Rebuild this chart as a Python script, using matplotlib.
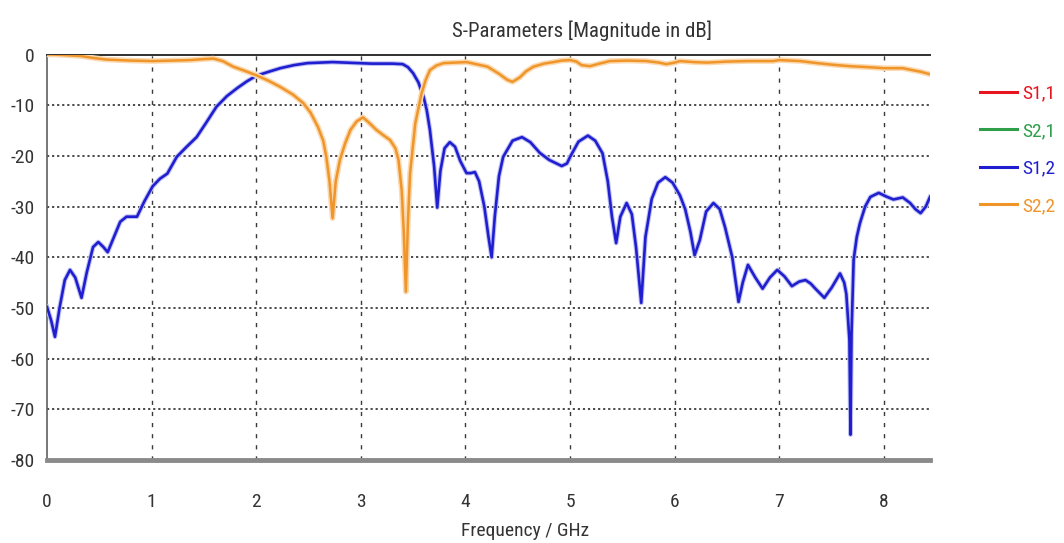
import matplotlib
matplotlib.use("Agg")
import matplotlib.pyplot as plt
import matplotlib.patheffects as pe
from matplotlib import font_manager

# ---- data -------------------------------------------------------------
freq_s12 = [0.00, 0.04, 0.076, 0.12, 0.17, 0.22, 0.27, 0.33, 0.38, 0.44, 0.49, 0.54,
            0.58, 0.64, 0.70, 0.76, 0.86, 0.93, 1.01, 1.08, 1.15, 1.24, 1.33, 1.43,
            1.52, 1.62, 1.72, 1.82, 1.91, 2.00, 2.12, 2.23, 2.36, 2.49, 2.60, 2.73,
            2.86, 3.00, 3.10, 3.20, 3.30, 3.40, 3.45, 3.50, 3.55, 3.60, 3.63, 3.66,
            3.70, 3.73, 3.76, 3.80, 3.85, 3.90, 3.95, 4.01, 4.05, 4.09, 4.13, 4.18,
            4.22, 4.25, 4.28, 4.32, 4.36, 4.45, 4.54, 4.62, 4.71, 4.80, 4.92, 4.97,
            5.00, 5.08, 5.17, 5.24, 5.31, 5.36, 5.40, 5.44, 5.48, 5.54, 5.59, 5.63,
            5.68, 5.72, 5.78, 5.84, 5.91, 5.98, 6.05, 6.10, 6.15, 6.19, 6.24, 6.30,
            6.37, 6.43, 6.48, 6.55, 6.61, 6.65, 6.70, 6.77, 6.84, 6.91, 6.98, 7.05,
            7.12, 7.19, 7.25, 7.30, 7.34, 7.43, 7.50, 7.58, 7.62, 7.64, 7.67, 7.68,
            7.69, 7.71, 7.74, 7.77, 7.82, 7.87, 7.95, 8.02, 8.09, 8.18, 8.25, 8.30,
            8.35, 8.40, 8.44]
s12_db = [-49.8, -52.5, -55.7, -50.0, -44.5, -42.5, -44.0, -48.0, -43.0, -38.0, -37.0, -38.0,
          -39.0, -36.0, -33.0, -32.0, -32.0, -29.0, -26.0, -24.5, -23.5, -20.2, -18.3, -16.3,
          -13.5, -10.3, -8.2, -6.6, -5.3, -4.2, -3.4, -2.7, -2.1, -1.7, -1.6, -1.5,
          -1.6, -1.7, -1.8, -1.8, -1.8, -1.9, -2.5, -3.7, -5.5, -8.4, -11.0, -14.9,
          -22.0, -30.2, -23.0, -18.5, -17.3, -18.2, -21.0, -23.4, -23.4, -23.2, -25.0, -30.0,
          -36.0, -40.0, -32.0, -24.0, -20.2, -17.0, -16.3, -17.3, -19.4, -20.8, -22.0, -21.5,
          -20.2, -17.2, -16.0, -17.0, -19.5, -25.0, -32.0, -37.2, -32.0, -29.3, -31.5, -38.0,
          -49.0, -36.0, -28.5, -25.3, -24.2, -25.3, -27.8, -30.5, -35.0, -39.6, -36.6, -31.0,
          -29.3, -30.5, -34.0, -40.0, -48.8, -45.0, -41.5, -44.0, -46.2, -44.0, -42.5, -43.8,
          -45.7, -44.8, -44.5, -45.2, -46.1, -48.0, -46.0, -43.2, -45.0, -47.2, -56.3, -75.0,
          -55.0, -40.5, -36.0, -33.3, -30.0, -28.1, -27.3, -28.0, -28.6, -28.2, -29.3, -30.5,
          -31.3, -30.0, -28.1]

freq_s22 = [0.00, 0.05, 0.15, 0.32, 0.45, 0.57, 0.80, 1.01, 1.20, 1.37, 1.50, 1.59,
            1.68, 1.78, 1.90, 2.00, 2.12, 2.23, 2.35, 2.45, 2.52, 2.59, 2.64, 2.67,
            2.70, 2.73, 2.76, 2.80, 2.85, 2.90, 2.96, 3.02, 3.08, 3.15, 3.22, 3.28,
            3.33, 3.36, 3.39, 3.41, 3.43, 3.45, 3.47, 3.52, 3.58, 3.62, 3.66, 3.72,
            3.79, 3.90, 4.01, 4.10, 4.21, 4.32, 4.40, 4.45, 4.52, 4.58, 4.65, 4.75,
            4.84, 4.92, 5.00, 5.06, 5.11, 5.19, 5.28, 5.38, 5.55, 5.73, 5.85, 5.92,
            6.00, 6.05, 6.18, 6.31, 6.50, 6.70, 6.94, 7.00, 7.20, 7.36, 7.50, 7.67,
            7.85, 8.00, 8.10, 8.18, 8.25, 8.35, 8.44]
s22_db = [0.0, 0.0, -0.1, -0.3, -0.7, -1.0, -1.2, -1.3, -1.2, -1.1, -0.9, -0.8,
          -1.3, -2.4, -3.3, -4.1, -5.2, -6.4, -7.9, -9.6, -11.5, -14.3, -17.0, -20.2,
          -25.0, -32.3, -25.0, -20.8, -17.5, -14.9, -13.2, -12.4, -13.5, -14.9, -16.0, -16.9,
          -18.5, -20.8, -26.7, -35.0, -46.8, -33.0, -23.5, -13.6, -7.7, -5.0, -3.1, -2.2,
          -1.7, -1.6, -1.5, -1.9, -2.4, -3.8, -5.0, -5.4, -4.5, -3.3, -2.4, -1.8,
          -1.5, -1.2, -1.1, -1.4, -2.1, -2.3, -1.8, -1.3, -1.2, -1.3, -1.6, -1.9,
          -1.6, -1.3, -1.5, -1.6, -1.4, -1.3, -1.3, -1.1, -1.3, -1.7, -2.0, -2.3,
          -2.5, -2.7, -2.7, -2.7, -3.0, -3.4, -3.9]

# reciprocal, symmetric two-port: S1,1 = S2,2 and S2,1 = S1,2
s11_db = list(s22_db)
s21_db = list(s12_db)

x_ticks = [0, 1, 2, 3, 4, 5, 6, 7, 8]
y_ticks = [0, -10, -20, -30, -40, -50, -60, -70, -80]
series_labels = ["S1,1", "S2,1", "S1,2", "S2,2"]

# ---- fonts ------------------------------------------------------------
available = {f.name for f in font_manager.fontManager.ttflist}
narrow = None
for cand in ["Liberation Sans Narrow", "DejaVu Sans Condensed", "Roboto Condensed",
             "Open Sans Condensed", "Liberation Sans"]:
    if cand in available:
        narrow = cand
        break
if narrow is None:
    narrow = "DejaVu Sans"
plt.rcParams["font.family"] = [narrow, "DejaVu Sans"]

# ---- figure -----------------------------------------------------------
W, H = 1064, 543
fig = plt.figure(figsize=(W / 100, H / 100), dpi=100)
ax = fig.add_axes([47 / W, 1 - 460 / H, (930 - 47) / W, (460 - 54.5) / H])

c_red = "#e8141e"
c_green = "#2e9e4a"
c_blue = "#1f1fd0"
c_orange = "#f0952a"

halo_o = [pe.Stroke(linewidth=4.0, foreground="#fbd9b0"), pe.Normal()]
halo_b = [pe.Stroke(linewidth=3.4, foreground="#c0c0f2"), pe.Normal()]

l11, = ax.plot(freq_s22, s11_db, color=c_red, lw=1.8, zorder=3)
l21, = ax.plot(freq_s12, s21_db, color=c_green, lw=1.8, zorder=3)
l12, = ax.plot(freq_s12, s12_db, color=c_blue, lw=1.9, zorder=4, path_effects=halo_b)
l22, = ax.plot(freq_s22, s22_db, color=c_orange, lw=1.8, zorder=5, path_effects=halo_o)

ax.set_xlim(0, 8.44)
ax.set_ylim(-80, 0)
ax.set_xticks(x_ticks)
ax.set_yticks(y_ticks)
ax.set_xticklabels([str(v) for v in x_ticks])
ax.set_yticklabels([str(v) for v in y_ticks])

ax.tick_params(axis="both", length=0, labelsize=14, colors="#333333")
ax.tick_params(axis="y", pad=9)
ax.tick_params(axis="x", pad=24)

# dotted horizontal grid, dashed vertical grid
for v in y_ticks[1:-1]:
    ax.axhline(v, color="#3a3a3a", lw=1.3, ls=(0, (1.2, 1.6)), zorder=1)
for v in x_ticks[1:]:
    ax.axvline(v, color="#3a3a3a", lw=1.0, ls=(0, (3.0, 5)), zorder=1)

ax.spines["right"].set_visible(False)
ax.spines["top"].set_color("#303030")
ax.spines["top"].set_linewidth(1.4)
ax.spines["left"].set_color("#606060")
ax.spines["left"].set_linewidth(1.2)
ax.spines["bottom"].set_color("#8a8a8a")
ax.spines["bottom"].set_linewidth(3.5)

fig.text(452 / W, 1 - 37 / H, "S-Parameters [Magnitude in dB]", ha="left",
         va="baseline", fontsize=15, color="#333333")
fig.text(525 / W, 1 - 522 / H, "Frequency / GHz", ha="center", va="top",
         fontsize=14, color="#333333")

leg = fig.legend([l11, l21, l12, l22], series_labels, loc="center left",
                 bbox_to_anchor=(980 / W, 1 - 150 / H), frameon=False,
                 fontsize=14, handlelength=1.9, handletextpad=0.25,
                 labelspacing=1.0, labelcolor="linecolor", borderpad=0,
                 borderaxespad=0)
for h in leg.legend_handles:
    h.set_path_effects([])
    h.set_linewidth(2.2)

fig.savefig("out.png", dpi=100)
